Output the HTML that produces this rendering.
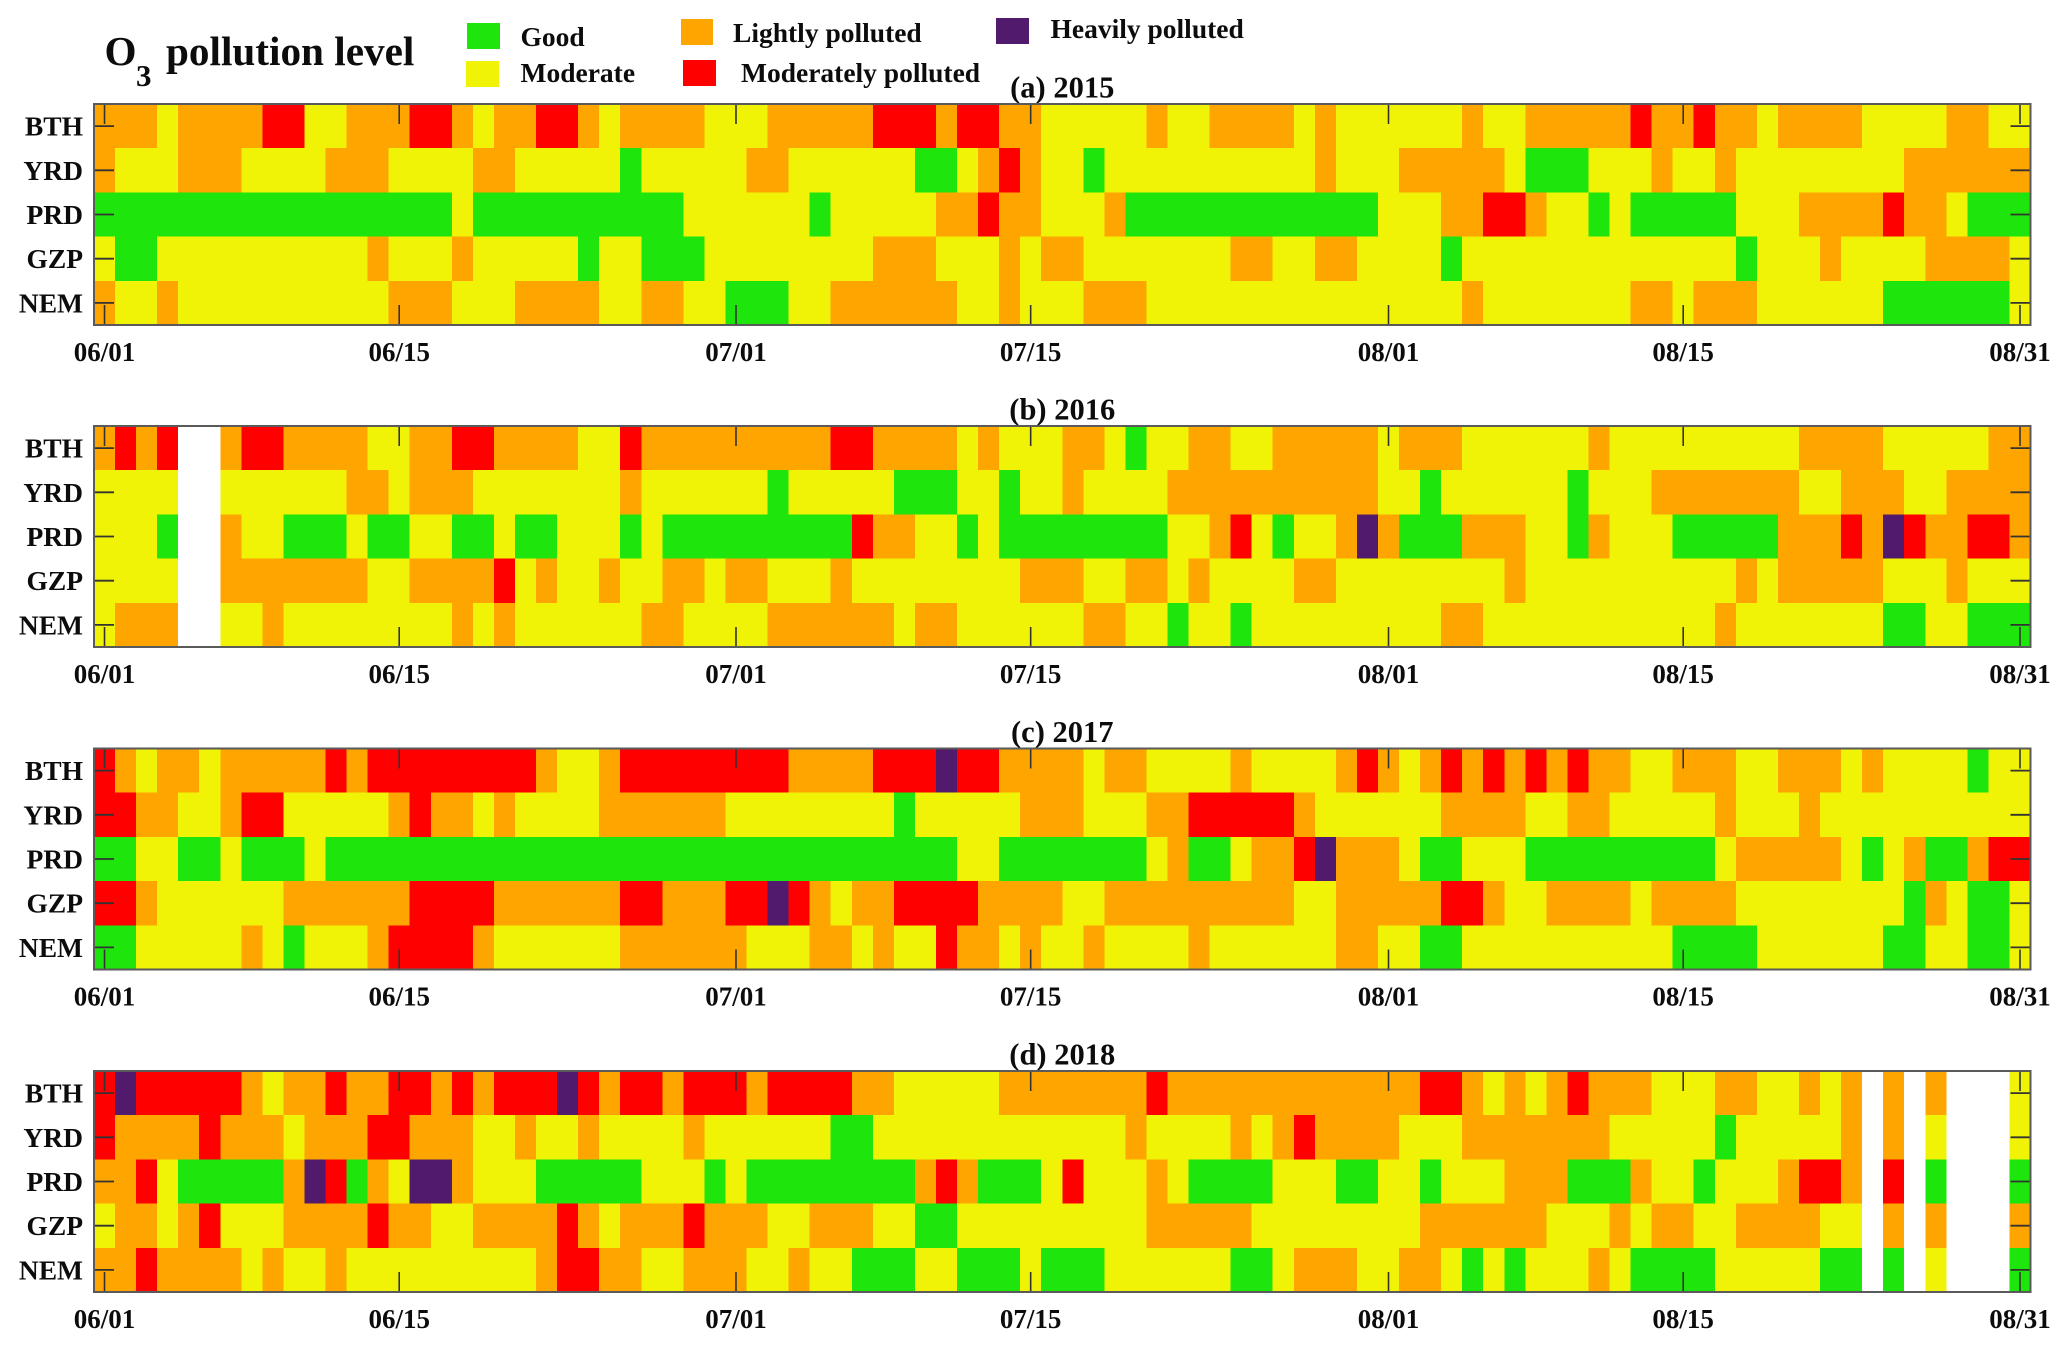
<!DOCTYPE html>
<html lang="en">
<head>
<meta charset="utf-8">
<title>O3 pollution level</title>
<style>
html,body{margin:0;padding:0;background:#fff;}
svg{display:block;}
text{font-family:"Liberation Serif",serif;font-weight:bold;fill:#0c0c0c;}
</style>
</head>
<body>
<svg id="chart" xmlns="http://www.w3.org/2000/svg" width="2067" height="1346" viewBox="0 0 2067 1346">
  <rect x="0" y="0" width="2067" height="1346" fill="#ffffff"/>
  <text x="104.5" y="65" font-size="41.2">O</text>
  <text x="136" y="86" font-size="31">3</text>
  <text x="166" y="65" font-size="41.2">pollution level</text>

  <g>
    <rect x="467" y="23" width="33" height="26" fill="#1ee50c"/>
    <text x="520.5" y="46" font-size="27.5">Good</text>
    <rect x="466" y="61" width="33" height="26" fill="#f0f305"/>
    <text x="520.5" y="82" font-size="27.5">Moderate</text>
    <rect x="681" y="19" width="32" height="26" fill="#ffa500"/>
    <text x="733" y="42" font-size="27.5">Lightly polluted</text>
    <rect x="683" y="60" width="33" height="26" fill="#ff0000"/>
    <text x="741" y="82" font-size="27.5">Moderately polluted</text>
    <rect x="996" y="18" width="33" height="26" fill="#521a6c"/>
    <text x="1050.5" y="38" font-size="27.5">Heavily polluted</text>
  </g>
  <g id="panels"></g>
</svg>
<script>
// Levels: 0 no data, 1 good, 2 moderate, 3 lightly, 4 moderately, 5 heavily polluted
const regions = ['BTH','YRD','PRD','GZP','NEM'];
const xTickLabels = ['06/01','06/15','07/01','07/15','08/01','08/15','08/31'];
const panelTitles = ['(a) 2015','(b) 2016','(c) 2017','(d) 2018'];
const levelColors = ['#ffffff','#1ee50c','#f0f305','#ffa500','#ff0000','#521a6c'];

const bth2015 = [3,3,3, 2, 3,3,3,3, 4,4, 2,2, 3,3,3, 4,4, 3, 2, 3,3, 4,4, 3, 2, 3,3,3,3, 2,2,2, 3,3,3,3,3, 4,4,4, 3, 4,4, 3,3,
  2,2,2,2,2, 3, 2,2, 3,3,3,3, 2, 3, 2,2,2,2,2,2, 3, 2,2, 3,3,3,3,3, 4, 3,3, 4, 3,3, 2, 3,3,3,3, 2,2,2,2, 3,3, 2,2];
const yrd2015 = [3, 2,2,2, 3,3,3, 2,2,2,2, 3,3,3, 2,2,2,2, 3,3, 2,2,2,2,2, 1, 2,2,2,2,2, 3,3, 2,2,2,2,2,2, 1,1, 2, 3, 4, 3,
  2,2, 1, 2,2,2,2,2,2,2,2,2,2, 3, 2,2,2, 3,3,3,3,3, 2, 1,1,1, 2,2,2, 3, 2,2, 3, 2,2,2,2,2,2,2,2, 3,3,3,3,3,3];
const prd2015 = [1,1,1,1,1,1,1,1,1,1,1,1,1,1,1,1,1, 2, 1,1,1,1,1,1,1,1,1,1, 2,2,2,2,2,2, 1, 2,2,2,2,2, 3,3, 4, 3,3,
  2,2,2, 3, 1,1,1,1,1,1,1,1,1,1,1,1, 2,2,2, 3,3, 4,4, 3, 2,2, 1, 2, 1,1,1,1,1, 2,2,2, 3,3,3,3, 4, 3,3, 2, 1,1,1];
const gzp2015 = [2, 1,1, 2,2,2,2,2,2,2,2,2,2, 3, 2,2,2, 3, 2,2,2,2,2, 1, 2,2, 1,1,1, 2,2,2,2,2,2,2,2, 3,3,3, 2,2,2, 3, 2,
  3,3, 2,2,2,2,2,2,2, 3,3, 2,2, 3,3, 2,2,2,2, 1, 2,2,2,2,2,2,2,2,2,2,2,2,2, 1, 2,2,2, 3, 2,2,2,2, 3,3,3,3, 2];
const nem2015 = [3, 2,2, 3, 2,2,2,2,2,2,2,2,2,2, 3,3,3, 2,2,2, 3,3,3,3, 2,2, 3,3, 2,2, 1,1,1, 2,2, 3,3,3,3,3,3, 2,2, 3, 2,
  2,2, 3,3,3, 2,2,2,2,2,2,2,2,2,2,2,2,2,2,2, 3, 2,2,2,2,2,2,2, 3,3, 2, 3,3,3, 2,2,2,2,2,2, 1,1,1,1,1,1, 2];

const bth2016 = [3, 4, 3, 4, 0,0, 3, 4,4, 3,3,3,3, 2,2, 3,3, 4,4, 3,3,3,3, 2,2, 4, 3,3,3,3,3,3,3,3,3, 4,4, 3,3,3,3, 2, 3, 2,2,
  2, 3,3, 2, 1, 2,2, 3,3, 2,2, 3,3,3,3,3, 2, 3,3,3, 2,2,2,2,2,2, 3, 2,2,2,2,2,2,2,2,2, 3,3,3,3, 2,2,2,2,2, 3,3];
const yrd2016 = [2,2,2,2, 0,0, 2,2,2,2,2,2, 3,3, 2, 3,3,3, 2,2,2,2,2,2,2, 3, 2,2,2,2,2,2, 1, 2,2,2,2,2, 1,1,1, 2,2, 1, 2,
  2, 3, 2,2,2,2, 3,3,3,3,3,3,3,3,3,3, 2,2, 1, 2,2,2,2,2,2, 1, 2,2,2, 3,3,3,3,3,3,3, 2,2, 3,3,3, 2,2, 3,3,3,3];
const prd2016 = [2,2,2, 1, 0,0, 3, 2,2, 1,1,1, 2, 1,1, 2,2, 1,1, 2, 1,1, 2,2,2, 1, 2, 1,1,1,1,1,1,1,1,1, 4, 3,3, 2,2, 1, 2, 1,1,
  1,1,1,1,1,1, 2,2, 3, 4, 2, 1, 2,2, 3, 5, 3, 1,1,1, 3,3,3, 2,2, 1, 3, 2,2,2, 1,1,1,1,1, 3,3,3, 4, 3, 5, 4, 3,3, 4,4, 3];
const gzp2016 = [2,2,2,2, 0,0, 3,3,3,3,3,3,3, 2,2, 3,3,3,3, 4, 2, 3, 2,2, 3, 2,2, 3,3, 2, 3,3, 2,2,2, 3, 2,2,2,2,2,2,2,2, 3,
  3,3, 2,2, 3,3, 2, 3, 2,2,2,2, 3,3, 2,2,2,2,2,2,2,2, 3, 2,2,2,2,2,2,2,2,2,2, 3, 2, 3,3,3,3,3, 2,2,2, 3, 2,2,2];
const nem2016 = [2, 3,3,3, 0,0, 2,2, 3, 2,2,2,2,2,2,2,2, 3, 2, 3, 2,2,2,2,2,2, 3,3, 2,2,2,2, 3,3,3,3,3,3, 2, 3,3, 2,2,2,2,
  2,2, 3,3, 2,2, 1, 2,2, 1, 2,2,2,2,2,2,2,2,2, 3,3, 2,2,2,2,2,2,2,2,2,2,2, 3, 2,2,2,2,2,2,2, 1,1, 2,2, 1,1,1];

const bth2017 = [4, 3, 2, 3,3, 2, 3,3,3,3,3, 4, 3, 4,4,4,4,4,4,4,4, 3, 2,2, 3, 4,4,4,4,4,4,4,4, 3,3,3,3, 4,4,4, 5, 4,4, 3,3,
  3,3, 2, 3,3, 2,2,2,2, 3, 2,2,2,2, 3, 4, 3, 2, 3, 4, 3, 4, 3, 4, 3, 4, 3,3, 2,2, 3,3,3, 2,2, 3,3,3, 2, 3, 2,2,2,2, 1, 2,2];
const yrd2017 = [4,4, 3,3, 2,2, 3, 4,4, 2,2,2,2,2, 3, 4, 3,3, 2, 3, 2,2,2,2, 3,3,3,3,3,3, 2,2,2,2,2,2,2,2, 1, 2,2,2,2,2, 3,
  3,3, 2,2,2, 3,3, 4,4,4,4,4, 3, 2,2,2,2,2,2, 3,3,3,3, 2,2, 3,3, 2,2,2,2,2, 3, 2,2,2, 3, 2,2,2,2,2,2,2,2,2,2];
const prd2017 = [1,1, 2,2, 1,1, 2, 1,1,1, 2, 1,1,1,1,1,1,1,1,1,1,1,1,1,1,1,1,1,1,1,1,1,1,1,1,1,1,1,1,1,1, 2,2, 1,1,
  1,1,1,1,1, 2, 3, 1,1, 2, 3,3, 4, 5, 3,3,3, 2, 1,1, 2,2,2, 1,1,1,1,1,1,1,1,1, 2, 3,3,3,3,3, 2, 1, 2, 3, 1,1, 3, 4,4];
const gzp2017 = [4,4, 3, 2,2,2,2,2,2, 3,3,3,3,3,3, 4,4,4,4, 3,3,3,3,3,3, 4,4, 3,3,3, 4,4, 5, 4, 3, 2, 3,3, 4,4,4,4, 3,3,3,
  3, 2,2, 3,3,3,3,3,3,3,3,3, 2,2, 3,3,3,3,3, 4,4, 3, 2,2, 3,3,3,3, 2, 3,3,3,3, 2,2,2,2,2,2,2,2, 1, 3, 2, 1,1, 2];
const nem2017 = [1,1, 2,2,2,2,2, 3, 2, 1, 2,2,2, 3, 4,4,4,4, 3, 2,2,2,2,2,2, 3,3,3,3,3,3, 2,2,2, 3,3, 2, 3, 2,2, 4, 3,3, 2, 3,
  2,2, 3, 2,2,2,2, 3, 2,2,2,2,2,2, 3,3, 2,2, 1,1, 2,2,2,2,2,2,2,2,2,2, 1,1,1,1, 2,2,2,2,2,2, 1,1, 2,2, 1,1, 2];

const bth2018 = [4, 5, 4,4,4,4,4, 3, 2, 3,3, 4, 3,3, 4,4, 3, 4, 3, 4,4,4, 5, 4, 3, 4,4, 3, 4,4,4, 3, 4,4,4,4, 3,3, 2,2,2,2,2, 3,3,
  3,3,3,3,3, 4, 3,3,3,3,3,3,3,3,3,3,3,3, 4,4, 3, 2, 3, 2, 3, 4, 3,3,3, 2,2,2, 3,3, 2,2, 3, 2, 3, 0, 3, 0, 3, 0,0,0, 2];
const yrd2018 = [4, 3,3,3,3, 4, 3,3,3, 2, 3,3,3, 4,4, 3,3,3, 2,2, 3, 2,2, 3, 2,2,2,2, 3, 2,2,2,2,2,2, 1,1, 2,2,2,2,2,2,2,2,
  2,2,2,2, 3, 2,2,2,2, 3, 2, 3, 4, 3,3,3,3, 2,2,2, 3,3,3,3,3,3,3, 2,2,2,2,2, 1, 2,2,2,2,2, 3, 0, 3, 0, 2, 0,0,0, 2];
const prd2018 = [3,3, 4, 2, 1,1,1,1,1, 3, 5, 4, 1, 3, 2, 5,5, 3, 2,2,2, 1,1,1,1,1, 2,2,2, 1, 2, 1,1,1,1,1,1,1,1, 3, 4, 3, 1,1,1,
  2, 4, 2,2,2, 3, 2, 1,1,1,1, 2,2,2, 1,1, 2,2, 1, 2,2,2, 3,3,3, 1,1,1, 3, 2,2, 1, 2,2,2, 3, 4,4, 3, 0, 4, 0, 1, 0,0,0, 1];
const gzp2018 = [2, 3,3, 2, 3, 4, 2,2,2, 3,3,3,3, 4, 3,3, 2,2, 3,3,3,3, 4, 3, 2, 3,3,3, 4, 3,3,3, 2,2, 3,3,3, 2,2, 1,1, 2,2,2,2,
  2,2,2,2,2, 3,3,3,3,3, 2,2,2,2,2,2,2,2, 3,3,3,3,3,3, 2,2,2, 3, 2, 3,3, 2,2, 3,3,3,3, 2,2, 0, 3, 0, 3, 0,0,0, 3];
const nem2018 = [3,3, 4, 3,3,3,3, 2, 3, 2,2, 3, 2,2,2,2,2,2,2,2,2, 3, 4,4, 3,3, 2,2, 3,3,3, 2,2, 3, 2,2, 1,1,1, 2,2, 1,1,1, 2,
  1,1,1, 2,2,2,2,2,2, 1,1, 2, 3,3,3, 2,2, 3,3, 2, 1, 2, 1, 2,2,2, 3, 2, 1,1,1,1, 2,2,2,2,2, 1,1, 0, 1, 0, 2, 0,0,0, 1];

const panelSeries = [
  [bth2015,yrd2015,prd2015,gzp2015,nem2015],
  [bth2016,yrd2016,prd2016,gzp2016,nem2016],
  [bth2017,yrd2017,prd2017,gzp2017,nem2017],
  [bth2018,yrd2018,prd2018,gzp2018,nem2018]
];

const NS = 'http://www.w3.org/2000/svg';
const plotLeft = 94, plotRight = 2030.5, plotHeight = 221, dayCount = 92;
const plotTopFor = function (p) { return [104, 426, 748.5, 1071][p]; };
const tickLen = 20;
const frameColor = '#5a5a5a', tickColor = '#333333';

function xScale(day) { return plotLeft + (plotRight - plotLeft) * day / dayCount; }
function yScale(row, top) { return top + plotHeight * row / regions.length; }
function dayIndex(label) {
  const parts = label.split('/');
  const month = parseInt(parts[0], 10), date = parseInt(parts[1], 10);
  return (month === 6 ? 0 : month === 7 ? 30 : 61) + date - 1;
}
function make(tag, parent, attrs) {
  const el = document.createElementNS(NS, tag);
  for (const k in attrs) el.setAttribute(k, attrs[k]);
  parent.appendChild(el);
  return el;
}

const root = document.getElementById('panels');
panelSeries.forEach(function (series, p) {
  const top = plotTopFor(p), bottom = top + plotHeight;
  const g = make('g', root, {});
  
  

  const title = make('text', g, {x: (plotLeft + plotRight) / 2, y: top - 6.5, 'font-size': 30.5, 'text-anchor': 'middle'});
  title.textContent = panelTitles[p];
  
  

  series.forEach(function (values, r) {
    const y0 = yScale(r, top), y1 = yScale(r + 1, top);
    values.forEach(function (level, d) {
      const x0 = xScale(d), x1 = xScale(d + 1);
      const cell = make('rect', g, {x: x0, y: y0, width: x1 - x0, height: y1 - y0, fill: levelColors[level], 'shape-rendering': 'crispEdges'});
      
      
    });
  });

  xTickLabels.forEach(function (label) {
    const x = xScale(dayIndex(label) + 0.5);
    const t1 = make('line', g, {x1: x, x2: x, y1: top, y2: top + tickLen, stroke: tickColor, 'stroke-width': 1.6});
    
    
    const t2 = make('line', g, {x1: x, x2: x, y1: bottom, y2: bottom - tickLen, stroke: tickColor, 'stroke-width': 1.6});
    
    
    const lab = make('text', g, {x: x, y: bottom + 36, 'font-size': 27, 'text-anchor': 'middle'});
    lab.textContent = label;
    
    
  });

  regions.forEach(function (name, r) {
    const y = yScale(r + 0.5, top);
    const t1 = make('line', g, {x1: plotLeft, x2: plotLeft + tickLen, y1: y, y2: y, stroke: tickColor, 'stroke-width': 1.8});
    
    
    const t2 = make('line', g, {x1: plotRight, x2: plotRight - tickLen, y1: y, y2: y, stroke: tickColor, 'stroke-width': 1.8});
    
    
    const lab = make('text', g, {x: 83, y: y + 9.5, 'font-size': 27.5, 'text-anchor': 'end'});
    lab.textContent = name;
    
    
  });

  const frame = make('rect', g, {x: plotLeft, y: top, width: plotRight - plotLeft, height: plotHeight, fill: 'none', stroke: frameColor, 'stroke-width': 2});
  
  
});
</script>
</body>
</html>
